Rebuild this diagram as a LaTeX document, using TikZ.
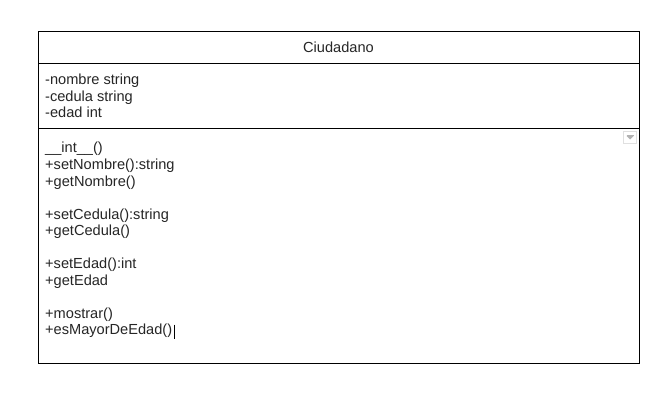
\documentclass[tikz,border=0pt]{standalone}
\usepackage{fontspec}
\setmainfont{Liberation Sans}
\begin{document}
\begin{tikzpicture}[x=1pt,y=-1pt,
  part/.style={draw=black, line width=1pt, fill=white, anchor=north west, inner sep=0pt, minimum width=601pt},
  txt/.style={anchor=base west, inner sep=0pt, font=\fontsize{14.6}{16.5}\selectfont, text=black!85}]
\useasboundingbox (0,0) rectangle (667,417);
\fill[white] (0,0) rectangle (667,417);
% class box sections
\node[part, minimum height=31.5pt] (title) at (38,31.5) {};
\node[part, minimum height=65.5pt] (attrs) at (38,63) {};
\node[part, minimum height=234.5pt] (meths) at (38,128.5) {};
\node[txt, anchor=base] (tname) at (338.5,52.5) {Ciudadano};
% attributes
\node[txt] (a1) at (45,85) {-nombre string};
\node[txt] (a2) at (45,101.5) {-cedula string};
\node[txt] (a3) at (45,118) {-edad int};
% methods
\node[txt] (m1) at (45,153) {\_\_int\_\_()};
\node[txt] (m2) at (45,169.5) {+setNombre():string};
\node[txt] (m3) at (45,186) {+getNombre()};
\node[txt] (m4) at (45,219) {+setCedula():string};
\node[txt] (m5) at (45,235.5) {+getCedula()};
\node[txt] (m6) at (45,268.5) {+setEdad():int};
\node[txt] (m7) at (45,285) {+getEdad};
\node[txt] (m8) at (45,318) {+mostrar()};
\node[txt] (m9) at (45,334.5) {+esMayorDeEdad()};
% text cursor
\coordinate (cur) at ([xshift=2pt]m9.base east);
\draw[line width=1.1pt, black] ([yshift=10pt]cur) -- ([yshift=-4pt]cur);
% dropdown icon
\node[draw=black!12, line width=0.8pt, fill=white, minimum width=13pt, minimum height=12pt, inner sep=0pt] (drop) at (630,137.5) {};
\fill[black!30] ([shift={(-3.5,-1.5)}]drop.center) -- ([shift={(3.5,-1.5)}]drop.center) -- ([shift={(0,2)}]drop.center) -- cycle;
\draw[black!30, line width=0.8pt] ([shift={(-3.5,-2.5)}]drop.center) -- ([shift={(3.5,-2.5)}]drop.center);
\end{tikzpicture}
\end{document}
